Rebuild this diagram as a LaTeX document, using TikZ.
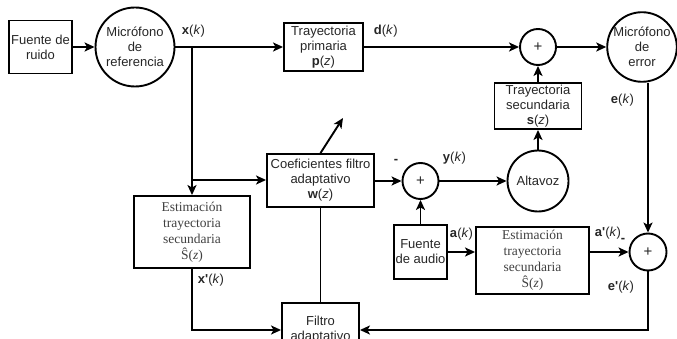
\documentclass[tikz,border=0pt]{standalone}
\usepackage{fontspec}
\setmainfont{Liberation Sans}
\newfontfamily\serifx{Liberation Serif}
\usetikzlibrary{arrows.meta}
\begin{document}
\begin{tikzpicture}[x=1pt,y=-1pt, line width=1.9pt,
  every node/.style={font=\fontsize{13}{15}\selectfont, text=black!85},
  blk/.style={draw=black, rectangle, align=center, inner sep=0pt, line width=1.9pt},
  circ/.style={draw=black, circle, align=center, inner sep=0pt, line width=1.9pt},
  plus/.style={circ, font=\fontsize{15}{15}\selectfont},
  sertext/.style={font=\serifx\fontsize{13.5}{16}\selectfont, text=black!75},
  arr/.style={-{Stealth[length=10pt,width=9pt,inset=2.5pt]}},
  lbl/.style={anchor=west, inner sep=0pt}]
\clip (0,0) rectangle (677,339);
% nodes
\node[blk, minimum width=63pt, minimum height=53pt] (ruido) at (40.5,47) {Fuente de\\ruido};
\node[circ, minimum size=79pt] (micref) at (135,47) {Micrófono\\de\\referencia};
\node[blk, minimum width=79pt, minimum height=48pt] (prim) at (323.5,47) {Trayectoria\\primaria\\\textbf{p}(\textit{z})};
\node[plus, minimum size=36pt] (sum1) at (538,47) {+};
\node[circ, minimum size=68pt] (micerr) at (642,47) {Micrófono\\de\\error};
\node[blk, minimum width=87pt, minimum height=46pt] (ts) at (538,106) {Trayectoria\\secundaria\\\textbf{s}(\textit{z})};
\node[circ, minimum size=61pt] (alta) at (538,181) {Altavoz};
\node[plus, minimum size=36pt] (sum2) at (420.5,181) {+};
\node[blk, minimum width=107pt, minimum height=53pt] (coef) at (320.5,180.5) {Coeficientes filtro\\adaptativo\\\textbf{w}(\textit{z})};
\node[blk, sertext, minimum width=116pt, minimum height=72pt] (est1) at (192,232) {Estimación\\trayectoria\\secundaria\\Ŝ(\textit{z})};
\node[blk, minimum width=77pt, minimum height=54pt] (filtro) at (320.5,330) {Filtro\\adaptativo};
\node[blk, minimum width=53pt, minimum height=54pt] (audio) at (420.5,252) {Fuente\\de audio};
\node[blk, sertext, minimum width=113pt, minimum height=67pt] (est2) at (532.5,260.5) {Estimación\\trayectoria\\secundaria\\Ŝ(\textit{z})};
\node[plus, minimum size=37pt] (sum3) at (648,252) {+};
% coordinates
\coordinate (b1) at (192,47);
\coordinate (b2) at (192,180);
\coordinate (diagtip) at (343,118);
% connectors
\draw[arr] (ruido) -- (micref);
\draw[arr] (micref) -- (prim);
\draw[arr] (b1) -- (est1.north);
\draw[arr] (b2) -- (b2 -| coef.west);
\draw[arr] (prim) -- (sum1);
\draw[arr] (sum1) -- (micerr);
\draw[arr] (ts) -- (sum1);
\draw[arr] (alta) -- (ts);
\draw[arr] (sum2) -- (alta);
\draw[arr] (coef.east |- sum2) -- (sum2);
\draw[arr] (coef.north) -- (diagtip);
\draw[arr] (audio) -- (sum2);
\draw[arr] (audio.east) -- (audio.east -| est2.west);
\draw[arr] (sum3.west -| est2.east) -- (sum3.west);
\draw[arr] (sum3 |- micerr.south) -- (sum3.north);
\draw[arr] (sum3.south) |- (filtro.east);
\draw[arr] (est1.south) |- (filtro.west);
\draw (coef.south) -- (filtro.north);
% labels
\node[lbl] (lx) at (181,31) {\textbf{x}(\textit{k})};
\node[lbl] (ld) at (373,31) {\textbf{d}(\textit{k})};
\node[lbl] (le) at (610,100) {\textbf{e}(\textit{k})};
\node[inner sep=0pt] (lminus1) at (396,161) {\textbf{-}};
\node[lbl] (ly) at (442,158) {\textbf{y}(\textit{k})};
\node[lbl] (la) at (449,234) {\textbf{a}(\textit{k})};
\node[lbl] (lap) at (594,233) {\textbf{a\textquotesingle}(\textit{k})};
\node[inner sep=0pt] (lminus2) at (623,240) {\textbf{-}};
\node[lbl] (lep) at (607,287) {\textbf{e\textquotesingle}(\textit{k})};
\node[lbl] (lxp) at (197,280) {\textbf{x\textquotesingle}(\textit{k})};
\end{tikzpicture}
\end{document}
